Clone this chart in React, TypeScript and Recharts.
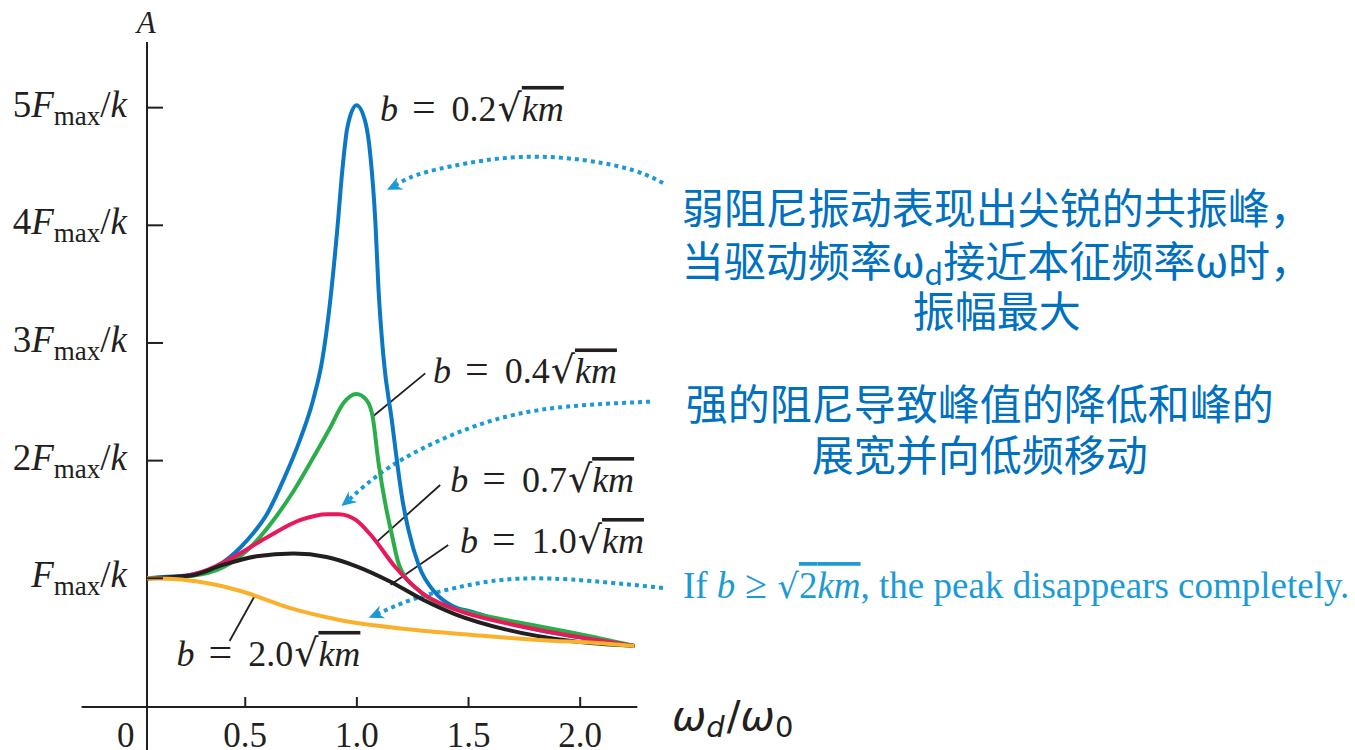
import React from 'react';
import { LineChart, Line, XAxis, YAxis, ReferenceLine, ReferenceDot } from 'recharts';

// ---------- data ----------
// damping coefficient b, in units of sqrt(km)
const dampingCoefs = ['0.2', '0.4', '0.7', '1.0', '2.0'];

// amplitude curves: [ω_d/ω_0, A in units of F_max/k]
const curveB02: [number, number][] = [
  [0.06, 1.0], [0.134, 1.011], [0.255, 1.028], [0.403, 1.139], [0.51, 1.326], [0.6, 1.555],
  [0.671, 1.836], [0.745, 2.176], [0.804, 2.516], [0.845, 2.856], [0.881, 3.366], [0.912, 3.961],
  [0.935, 4.471], [0.957, 4.828], [0.998, 5.02], [1.039, 4.87], [1.061, 4.581], [1.083, 4.02],
  [1.097, 3.451], [1.119, 2.881], [1.158, 2.32], [1.177, 2.031], [1.204, 1.666], [1.231, 1.411],
  [1.278, 1.105], [1.352, 0.875], [1.428, 0.765], [1.517, 0.714], [1.665, 0.629], [1.813, 0.561],
  [2.108, 0.467], [2.243, 0.425],
];
const curveB04: [number, number][] = [
  [0.06, 1.0], [0.255, 1.02], [0.403, 1.096], [0.524, 1.266], [0.627, 1.496], [0.716, 1.74],
  [0.806, 2.03], [0.882, 2.286], [0.94, 2.49], [0.998, 2.567], [1.043, 2.516], [1.07, 2.38],
  [1.097, 1.98], [1.131, 1.597], [1.155, 1.385], [1.189, 1.113], [1.285, 0.884], [1.365, 0.79],
  [1.517, 0.705], [1.737, 0.62], [2.037, 0.51], [2.243, 0.425],
];
const curveB07: [number, number][] = [
  [0.06, 1.0], [0.21, 1.014], [0.331, 1.071], [0.448, 1.181], [0.6, 1.351], [0.748, 1.496],
  [0.868, 1.545], [0.918, 1.545], [0.995, 1.496], [1.068, 1.355], [1.17, 1.1], [1.292, 0.875],
  [1.441, 0.735], [1.665, 0.62], [1.889, 0.535], [2.243, 0.425],
];
const curveB10: [number, number][] = [
  [0.06, 1.0], [0.255, 1.023], [0.403, 1.116], [0.551, 1.187], [0.716, 1.21], [0.864, 1.181],
  [0.998, 1.102], [1.146, 0.975], [1.294, 0.82], [1.441, 0.694], [1.665, 0.566], [1.961, 0.467],
  [2.243, 0.425],
];
const curveB20: [number, number][] = [
  [0.06, 1.0], [0.179, 0.994], [0.327, 0.96], [0.479, 0.892], [0.698, 0.748], [0.922, 0.646],
  [1.218, 0.569], [1.517, 0.518], [1.813, 0.476], [2.108, 0.445], [2.243, 0.425],
];

// axis ticks
const xTicks = [0, 0.5, 1, 1.5, 2];
const xTickLabels = ['0', '0.5', '1.0', '1.5', '2.0'];
const yTicks = [1, 2, 3, 4, 5];
const yTickCoefs = ['', '2', '3', '4', '5'];

// label anchors (left end, baseline) for the b = ... labels, in data units
const labelAnchors: [number, number][] = [
  [1.103, 4.887], [1.341, 2.656], [1.418, 1.733], [1.462, 1.215], [0.192, 0.255],
];
// leader lines from label to curve (null = no leader)
const leaderLines: ([number, number][] | null)[] = [
  null,
  [[1.074, 2.379], [1.306, 2.742]],
  [[1.09, 1.311], [1.373, 1.793]],
  [[1.151, 0.946], [1.409, 1.283]],
  [[0.542, 0.849], [0.43, 0.467]],
];

// dotted callout arrows (from text towards curves)
const arrowWeak: [number, number][] = [
  [2.371, 4.36], [2.179, 4.498], [1.821, 4.583], [1.492, 4.527], [1.269, 4.428], [1.163, 4.328],
];
const arrowStrong: [number, number][] = [
  [2.313, 2.501], [1.821, 2.431], [1.448, 2.235], [1.149, 1.948], [0.955, 1.651],
];
const arrowCritical: [number, number][] = [
  [2.371, 0.918], [1.96, 0.989], [1.664, 0.989], [1.44, 0.918], [1.248, 0.82], [1.082, 0.688],
];

// callout texts
const calloutWeak = ['弱阻尼振动表现出尖锐的共振峰，', '当驱动频率ω', 'd', '接近本征频率ω时，', '振幅最大'];
const calloutStrong = ['强的阻尼导致峰值的降低和峰的', '展宽并向低频移动'];
const calloutCritical = ['If ', 'b', ' ≥ ', '√', '2', 'km', ', the peak disappears completely.'];

// ---------- styling ----------
const INK = '#231f20';
const CURVE_COLORS = ['#0a78c2', '#2bae4a', '#e8195b', '#231f20', '#f9b12c'];
const ARROW_BLUE = '#1c9ad6';
const CJK_BLUE = '#0070c0';
const SERIF = "'Liberation Serif', 'Times New Roman', serif";
const RADICAL = "'DejaVu Serif', serif";
const CJK = "'Noto Sans CJK SC', sans-serif";

const toPoints = (arr: [number, number][]) => arr.map(([x, y]) => ({ x, y }));

const XTick = (props: any) => {
  const { x, y, payload } = props;
  const v = payload.value;
  const label = xTickLabels[xTicks.indexOf(v)];
  return (
    <g>
      {v !== 0 && <line x1={x} x2={x} y1={y - 1} y2={y - 10} stroke={INK} strokeWidth={2} />}
      <text x={v === 0 ? x + 1 : x} y={y + 40} textAnchor={v === 0 ? 'end' : 'middle'} fontFamily={SERIF} fontSize={35} fill={INK}>
        {label}
      </text>
    </g>
  );
};

const YTick = (props: any) => {
  const { x, y, payload } = props;
  const coef = yTickCoefs[yTicks.indexOf(payload.value)];
  return (
    <g>
      <line x1={x} x2={x + 16} y1={y} y2={y} stroke={INK} strokeWidth={2} />
      <text x={x - 20} y={y + 9} textAnchor="end" fontFamily={SERIF} fontSize={37} fill={INK}>
        {coef ? <tspan>{coef}</tspan> : null}
        <tspan fontStyle="italic">F</tspan>
        <tspan fontSize={27} dy={8}>max</tspan>
        <tspan dy={-8}>/</tspan>
        <tspan fontStyle="italic">k</tspan>
      </text>
    </g>
  );
};

const BLabel = ({ cx, cy, coef }: any) => (
  <text x={cx} y={cy} fontFamily={SERIF} fontSize={36} fill={INK}>
    <tspan fontStyle="italic">b</tspan>
    <tspan dx={14} fontSize={42}>=</tspan>
    <tspan dx={16}>{coef}</tspan>
    <tspan fontFamily={RADICAL} fontSize={38} dx={1}>√</tspan>
    <tspan fontStyle="italic" style={{ textDecoration: 'overline' }}>km</tspan>
  </text>
);

const makeArrowDot = (color: string, len: number) => (props: any) => {
  const { cx, cy, index, points } = props;
  if (index !== len - 1 || !points || index < 1) return <g key={`ad-${index}`} />;
  const prev = points[index - 1];
  const ang = (Math.atan2(cy - prev.y, cx - prev.x) * 180) / Math.PI;
  return (
    <g key={`ad-${index}`} transform={`translate(${cx},${cy}) rotate(${ang})`}>
      <path d="M7,0 L-8,-7 L-3,0 L-8,7 Z" fill={color} />
    </g>
  );
};

const curves = [curveB02, curveB04, curveB07, curveB10, curveB20];
const arrows = [arrowWeak, arrowStrong, arrowCritical];

export default function App() {
  return (
    <div style={{ position: 'absolute', left: 0, top: 0, width: 1355, height: 750, overflow: 'hidden', background: '#fff' }}>
      <LineChart width={1355} height={750} margin={{ top: 42, right: 0, bottom: 42, left: 146 }}>
        <XAxis
          type="number" dataKey="x" domain={[0.06, 5.47]} allowDataOverflow ticks={xTicks} interval={0}
          height={1} axisLine={false} tickLine={false} tickSize={0} tickMargin={0} tick={(p: any) => <XTick {...p} />}
        />
        <YAxis
          type="number" dataKey="y" domain={[-0.094, 5.558]} allowDataOverflow ticks={yTicks} interval={0}
          width={1} axisLine={false} tickLine={false} tickSize={0} tickMargin={0} tick={(p: any) => <YTick {...p} />}
        />
        {/* axis lines */}
        <ReferenceLine segment={[{ x: -0.233, y: -0.094 }, { x: 2.256, y: -0.094 }]} stroke={INK} strokeWidth={2} ifOverflow="visible" />
        <ReferenceLine segment={[{ x: 0.06, y: -0.6 }, { x: 0.06, y: 5.558 }]} stroke={INK} strokeWidth={2} ifOverflow="visible" />

        {/* leader lines */}
        {leaderLines.map((seg, i) =>
          seg ? (
            <ReferenceLine key={`ld${i}`} segment={seg.map(([x, y]) => ({ x, y }))} stroke={INK} strokeWidth={1.8} ifOverflow="visible" />
          ) : null
        )}

        {/* dotted arrows */}
        {arrows.map((a, i) => (
          <Line
            key={`ar${i}`} data={toPoints(a)} dataKey="y" type="natural" stroke={ARROW_BLUE} strokeWidth={4}
            strokeDasharray="4 4" dot={makeArrowDot(ARROW_BLUE, a.length)} activeDot={false} isAnimationActive={false}
          />
        ))}

        {/* amplitude curves */}
        {curves.map((c, i) => (
          <Line
            key={`c${i}`} data={toPoints(c)} dataKey="y" type="monotone" stroke={CURVE_COLORS[i]} strokeWidth={4}
            dot={false} activeDot={false} isAnimationActive={false}
          />
        ))}

        {/* b labels */}
        {labelAnchors.map(([x, y], i) => (
          <ReferenceDot key={`bl${i}`} x={x} y={y} r={0} ifOverflow="visible"
            shape={(p: any) => <BLabel cx={p.cx} cy={p.cy} coef={dampingCoefs[i]} />} />
        ))}

        {/* axis titles */}
        <ReferenceDot x={0.056} y={5.634} r={0} ifOverflow="visible"
          shape={(p: any) => (
            <text x={p.cx} y={p.cy} textAnchor="middle" fontFamily={SERIF} fontStyle="italic" fontSize={31} fill={INK}>A</text>
          )} />
        <ReferenceDot x={2.411} y={-0.289} r={0} ifOverflow="visible"
          shape={(p: any) => (
            <text x={p.cx} y={p.cy} fontFamily="'DejaVu Sans', sans-serif" fontSize={41} fill={INK}>
              <tspan fontStyle="italic">ω</tspan>
              <tspan fontStyle="italic" fontSize={29} dy={7}>d</tspan>
              <tspan dy={-7} dx={2}>/</tspan>
              <tspan fontStyle="italic">ω</tspan>
              <tspan fontSize={29} dy={7}>0</tspan>
            </text>
          )} />

        {/* callouts */}
        <ReferenceDot x={3.866} y={4.011} r={0} ifOverflow="visible"
          shape={(p: any) => (
            <g fontFamily={CJK} fontSize={42} fill={CJK_BLUE}>
              <text x={p.cx} y={p.cy} textAnchor="middle">{calloutWeak[0]}</text>
              <text x={p.cx} y={p.cy + 53} textAnchor="middle">
                {calloutWeak[1]}
                <tspan fontSize={30} dy={8}>{calloutWeak[2]}</tspan>
                <tspan dy={-8}>{calloutWeak[3]}</tspan>
              </text>
              <text x={p.cx} y={p.cy + 103} textAnchor="middle">{calloutWeak[4]}</text>
            </g>
          )} />
        <ReferenceDot x={3.79} y={2.346} r={0} ifOverflow="visible"
          shape={(p: any) => (
            <g fontFamily={CJK} fontSize={42} fill={CJK_BLUE}>
              <text x={p.cx} y={p.cy} textAnchor="middle">{calloutStrong[0]}</text>
              <text x={p.cx} y={p.cy + 51} textAnchor="middle">{calloutStrong[1]}</text>
            </g>
          )} />
        <ReferenceDot x={2.46} y={0.832} r={0} ifOverflow="visible"
          shape={(p: any) => (
            <text x={p.cx} y={p.cy} fontFamily={SERIF} fontSize={37} fill={ARROW_BLUE}>
              {calloutCritical[0]}
              <tspan fontStyle="italic">{calloutCritical[1]}</tspan>
              <tspan fontSize={40}>{calloutCritical[2]}</tspan>
              <tspan fontFamily={RADICAL} fontSize={34}>{calloutCritical[3]}</tspan>
              <tspan style={{ textDecoration: 'overline' }}>{calloutCritical[4]}</tspan>
              <tspan fontStyle="italic" style={{ textDecoration: 'overline' }}>{calloutCritical[5]}</tspan>
              {calloutCritical[6]}
            </text>
          )} />
      </LineChart>
    </div>
  );
}
